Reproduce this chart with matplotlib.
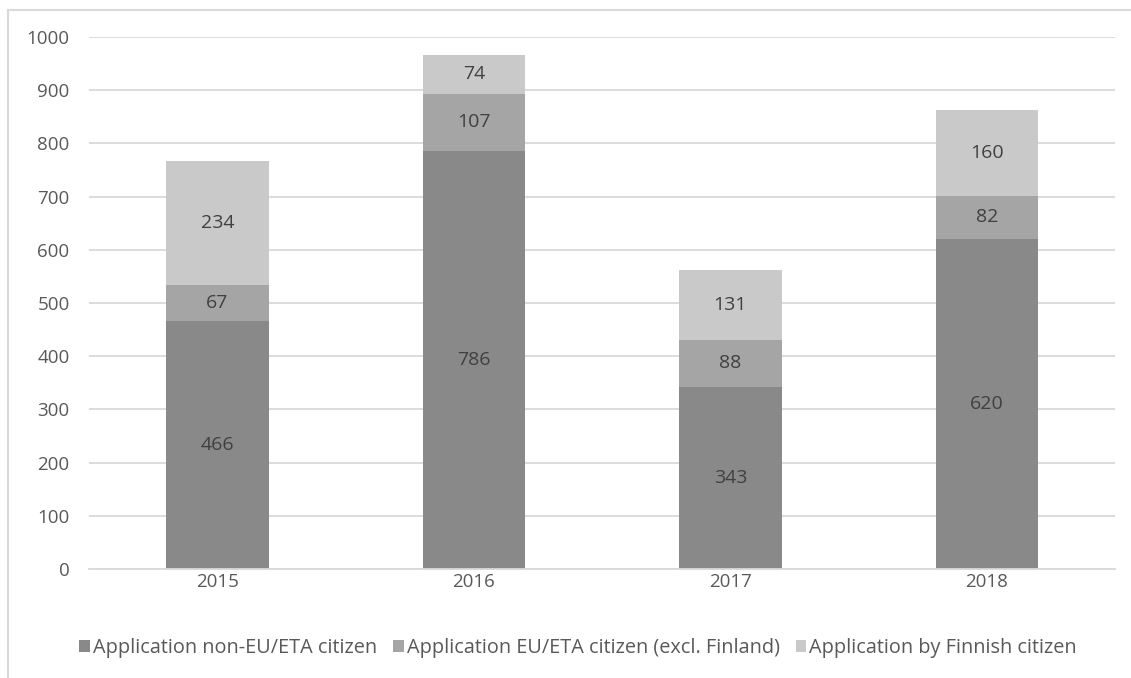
import matplotlib.pyplot as plt
from matplotlib.patches import Rectangle

# Data
years = ['2015', '2016', '2017', '2018']
non_eu = [466, 786, 343, 620]
eu_eta = [67, 107, 88, 82]
finnish = [234, 74, 131, 160]
series_labels = ['Application non-EU/ETA citizen',
                 'Application EU/ETA citizen (excl. Finland)',
                 'Application by Finnish citizen']
colors = ['#898989', '#a5a5a5', '#c9c9c9']

plt.rcParams['font.family'] = ['Open Sans', 'DejaVu Sans']
text_color = '#595959'

fig = plt.figure(figsize=(11.31, 6.78), dpi=100)
ax = fig.add_axes([0.0787, 0.1608, 0.9073, 0.7846])

x = range(len(years))
width = 0.4
bottoms = [0] * len(years)
for vals, lab, col in zip([non_eu, eu_eta, finnish], series_labels, colors):
    bars = ax.bar(x, vals, width=width, bottom=bottoms, color=col, label=lab, zorder=2)
    ax.bar_label(bars, labels=[str(v) for v in vals], label_type='center',
                 fontsize=14, color='#404040')
    bottoms = [b + v for b, v in zip(bottoms, vals)]

ax.set_xlim(-0.5, 3.5)
ax.set_ylim(0, 1000)
ax.set_yticks(range(0, 1001, 100))
ax.set_xticks(list(x))
ax.set_xticklabels(years)
ax.yaxis.grid(True, color='#d9d9d9', linewidth=1.3, zorder=0)
ax.set_axisbelow(True)
for s in ['top', 'right', 'left']:
    ax.spines[s].set_visible(False)
ax.spines['bottom'].set_color('#d9d9d9')
ax.spines['bottom'].set_linewidth(1.3)
ax.tick_params(axis='both', length=0, labelsize=13.5, colors=text_color)
ax.tick_params(axis='y', pad=14)
ax.tick_params(axis='x', pad=3)

leg = fig.legend(loc='center', bbox_to_anchor=(0.511, 0.044), ncol=3, frameon=False,
                 fontsize=14.3, handlelength=0.55, handleheight=0.55, handletextpad=0.15,
                 columnspacing=0.8)
for t in leg.get_texts():
    t.set_color(text_color)

# chart area border (only top and left edges visible in the crop)
fig.patches.append(Rectangle((8 / 1131, -0.1), 1.2, 1.1 - 10 / 678,
                             transform=fig.transFigure, fill=False,
                             edgecolor='#d9d9d9', linewidth=1.5))

fig.savefig('out.png', dpi=100)
